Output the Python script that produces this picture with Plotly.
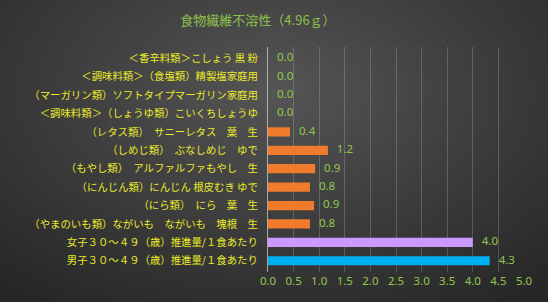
import plotly.graph_objects as go
import zlib, struct, base64, math

categories = [
    "＜香辛料類＞こしょう 黒 粉",
    "＜調味料類＞（食塩類）精製塩家庭用",
    "（マーガリン類）ソフトタイプマーガリン家庭用",
    "＜調味料類＞（しょうゆ類）こいくちしょうゆ",
    "（レタス類）　サニーレタス　葉　生",
    "（しめじ類）　ぶなしめじ　ゆで",
    "（もやし類）　アルファルファもやし　生",
    "（にんじん類）にんじん 根皮むき ゆで",
    "（にら類）　にら　葉　生",
    "（やまのいも類）ながいも　ながいも　塊根　生",
    "女子３０～４９（歳）推進量/１食あたり",
    "男子３０～４９（歳）推進量/１食あたり",
]
values = [0.0, 0.0, 0.0, 0.0, 0.43, 1.17, 0.92, 0.82, 0.9, 0.82, 4.0, 4.33]
value_labels = ["0.0", "0.0", "0.0", "0.0", "0.4", "1.2", "0.9", "0.8", "0.9", "0.8", "4.0", "4.3"]
bar_colors = ["#F07B2C"] * 10 + ["#CC99FF", "#00B0F0"]
title = "食物繊維不溶性（4.96ｇ）"

W, H = 548, 302
ML, MR, MT, MB = 268, 24, 47, 30

# radial gradient background image
def make_png(w, h):
    rows = []
    cx, cy = w * 0.5, h * 0.3
    rmax = math.hypot(w * 0.55, h * 0.9)
    for j in range(h):
        row = bytearray([0])
        for i in range(w):
            d = min(1.0, math.hypot(i - cx, (j - cy) * 1.6) / rmax)
            v = int(round(0x55 + (0x27 - 0x55) * d))
            row += bytes([v, v, v])
        rows.append(bytes(row))
    raw = b"".join(rows)
    def chunk(t, d):
        c = struct.pack(">I", len(d)) + t + d
        return c + struct.pack(">I", zlib.crc32(t + d) & 0xffffffff)
    png = b"\x89PNG\r\n\x1a\n" + chunk(b"IHDR", struct.pack(">IIBBBBB", w, h, 8, 2, 0, 0, 0))
    png += chunk(b"IDAT", zlib.compress(raw, 9)) + chunk(b"IEND", b"")
    return "data:image/png;base64," + base64.b64encode(png).decode()

pw = W - ML - MR
ph = H - MT - MB

fig = go.Figure()
fig.add_trace(go.Bar(
    y=categories, x=values, orientation="h",
    marker=dict(color=bar_colors, line=dict(width=0)),
    width=0.5,
    hoverinfo="skip",
))
fig.add_trace(go.Scatter(
    y=categories, x=values, mode="text",
    text=["   " + t for t in value_labels], textposition="middle right",
    textfont=dict(color="#92C84E", size=11.5, family="Noto Sans, sans-serif"),
    cliponaxis=False, hoverinfo="skip",
))

fig.update_layout(
    width=W, height=H,
    margin=dict(l=ML, r=MR, t=MT, b=MB),
    paper_bgcolor="#2a2a2a", plot_bgcolor="rgba(0,0,0,0)",
    showlegend=False,
    title=dict(text=title, xref="container", x=258 / W, xanchor="center", y=1 - 20 / H, yanchor="middle",
               font=dict(color="#8DC04A", size=13, family="Noto Sans CJK JP")),
    images=[dict(source=make_png(W, H), xref="paper", yref="paper",
                 x=-ML / pw, y=1 + MT / ph, sizex=W / pw, sizey=H / ph,
                 xanchor="left", yanchor="top", sizing="stretch", layer="below")],
    xaxis=dict(range=[0, 5], dtick=0.5, tickformat=".1f",
               showgrid=True, gridcolor="rgba(255,255,255,0.18)", gridwidth=1,
               zeroline=False, showline=False, ticks="",
               tickfont=dict(color="#92C84E", size=11.5, family="Noto Sans, sans-serif")),
    yaxis=dict(autorange="reversed", showline=True, linecolor="rgba(255,255,255,0.55)", linewidth=1,
               ticks="", ticklabelstandoff=7,
               tickfont=dict(color="#EAEA2A", size=10.4, family="Noto Sans CJK JP")),
    bargap=0.5,
)

fig.write_html("out.html")
